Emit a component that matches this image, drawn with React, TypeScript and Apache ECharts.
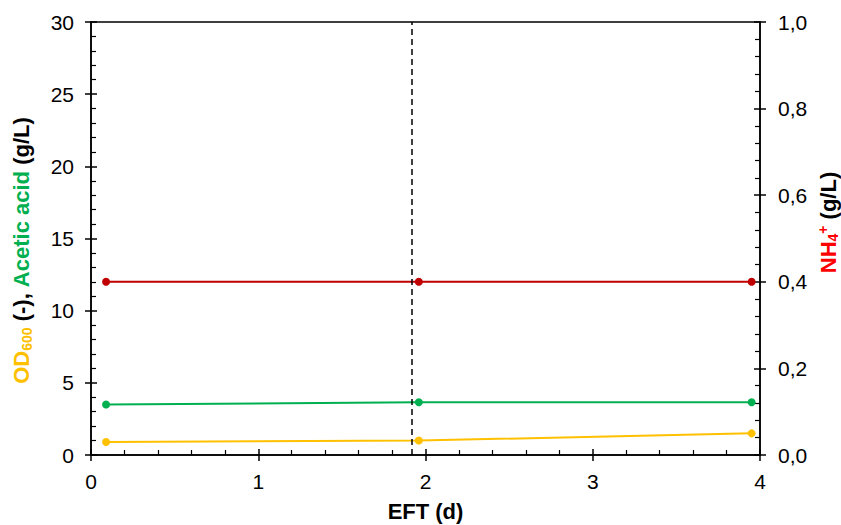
import React, { useEffect, useRef } from "react";
import * as echarts from "echarts";

const days = [0.09, 1.96, 3.95];
const od600 = [0.9, 1.0, 1.5];
const aceticAcid = [3.5, 3.65, 3.65];
const nh4 = [0.4, 0.4, 0.4];
const dashedDay = 1.92;

const FONT = "Liberation Sans, Arial, sans-serif";
const YELLOW = "#FFC000";
const GREEN = "#00B050";
const RED = "#C00000";
const RED_LABEL = "#FF0000";

const gridRect = { left: 91, right: 81, top: 22, bottom: 70, outerBoundsMode: "none", containLabel: false };

export default function App() {
  const ref = useRef<HTMLDivElement>(null);
  useEffect(() => {
    const chart = echarts.init(ref.current!, undefined, { renderer: "svg" });
    const axisLine = { show: true, lineStyle: { color: "#000", width: 1.5 } };
    const majorTick = { show: true, inside: false, length: 6, lineStyle: { color: "#000", width: 1.5 } };
    const label = { color: "#000", fontFamily: FONT, fontSize: 21 };
    const innerAxisCommon = {
      axisLine: { show: false },
      axisTick: { show: true, inside: true, length: 6, lineStyle: { color: "#000", width: 1.5 } },
      minorTick: { show: true, splitNumber: 5, length: 5, lineStyle: { color: "#000", width: 1.2 } },
      axisLabel: { show: false },
      splitLine: { show: false },
    };
    const mk = (vals: number[]) => days.map((d, i) => [d, vals[i]]);
    const NAME = 22;
    const SUB = 14;
    chart.setOption({
      animation: false,
      grid: [
        { ...gridRect, show: true, borderColor: "#000", borderWidth: 1.5, backgroundColor: "transparent" },
        { ...gridRect },
      ],
      xAxis: [
        {
          type: "value", gridIndex: 0, min: 0, max: 4, interval: 1,
          axisLine, axisTick: majorTick, splitLine: { show: false },
          axisLabel: { ...label, margin: 16 },
          name: "EFT (d)", nameLocation: "middle", nameGap: 45,
          nameTextStyle: { color: "#000", fontFamily: FONT, fontSize: NAME, fontWeight: "bold" },
        },
        { type: "value", gridIndex: 1, min: 0, max: 4, interval: 1, ...innerAxisCommon },
      ],
      yAxis: [
        {
          type: "value", gridIndex: 0, position: "left", min: 0, max: 30, interval: 5,
          axisLine, axisTick: majorTick, splitLine: { show: false },
          axisLabel: { ...label, margin: 17 },
          name: "{od|OD}{sub|600}{k| (-), }{g|Acetic acid}{k| (g/L)}",
          nameLocation: "middle", nameGap: 57,
          nameTextStyle: {
            fontFamily: FONT, fontSize: NAME, fontWeight: "bold", padding: [0, 24, 0, 0],
            rich: {
              od: { color: YELLOW, fontFamily: FONT, fontSize: NAME, fontWeight: "bold", lineHeight: 26 },
              sub: { color: YELLOW, fontFamily: FONT, fontSize: SUB, fontWeight: "bold", verticalAlign: "bottom", lineHeight: 16 },
              k: { color: "#000", fontFamily: FONT, fontSize: NAME, fontWeight: "bold", lineHeight: 26 },
              g: { color: GREEN, fontFamily: FONT, fontSize: NAME, fontWeight: "bold", lineHeight: 26 },
            },
          },
        },
        {
          type: "value", gridIndex: 0, position: "right", min: 0, max: 1, interval: 0.2,
          axisLine, axisTick: majorTick, splitLine: { show: false },
          axisLabel: { ...label, margin: 18, formatter: (v: number) => v.toFixed(1).replace(".", ",") },
          name: "{n|NH}{sub|4}{sup|+}{k| (g/L)}",
          nameLocation: "middle", nameGap: 56, nameMoveOverlap: false,
          nameTextStyle: {
            fontFamily: FONT, fontSize: NAME, fontWeight: "bold", padding: [0, 0, 0, 32],
            rich: {
              n: { color: RED_LABEL, fontFamily: FONT, fontSize: NAME, fontWeight: "bold", lineHeight: 24 },
              sub: { color: RED_LABEL, fontFamily: FONT, fontSize: SUB, fontWeight: "bold", verticalAlign: "bottom", lineHeight: 16 },
              sup: { color: RED_LABEL, fontFamily: FONT, fontSize: SUB, fontWeight: "bold", verticalAlign: "top", lineHeight: 16 },
              k: { color: "#000", fontFamily: FONT, fontSize: NAME, fontWeight: "bold", lineHeight: 24 },
            },
          },
        },
        { type: "value", gridIndex: 1, position: "left", min: 0, max: 30, interval: 5, ...innerAxisCommon },
        { type: "value", gridIndex: 1, position: "right", min: 0, max: 1, interval: 0.2, ...innerAxisCommon },
      ],
      series: [
        {
          type: "line", xAxisIndex: 0, yAxisIndex: 1, data: mk(nh4),
          symbol: "circle", symbolSize: 8, itemStyle: { color: RED }, lineStyle: { color: RED, width: 2 },
        },
        {
          type: "line", xAxisIndex: 0, yAxisIndex: 0, data: mk(aceticAcid),
          symbol: "circle", symbolSize: 8, itemStyle: { color: GREEN }, lineStyle: { color: GREEN, width: 2 },
        },
        {
          type: "line", xAxisIndex: 0, yAxisIndex: 0, data: mk(od600),
          symbol: "circle", symbolSize: 8, itemStyle: { color: YELLOW }, lineStyle: { color: YELLOW, width: 2 },
          markLine: {
            silent: true, symbol: ["none", "none"], label: { show: false },
            lineStyle: { color: "#000", type: [6, 4], width: 1.5 },
            data: [{ xAxis: dashedDay }],
          },
        },
      ],
    });
    return () => chart.dispose();
  }, []);
  return <div ref={ref} style={{ width: 841, height: 525, position: "absolute", left: 0, top: 0 }} />;
}
